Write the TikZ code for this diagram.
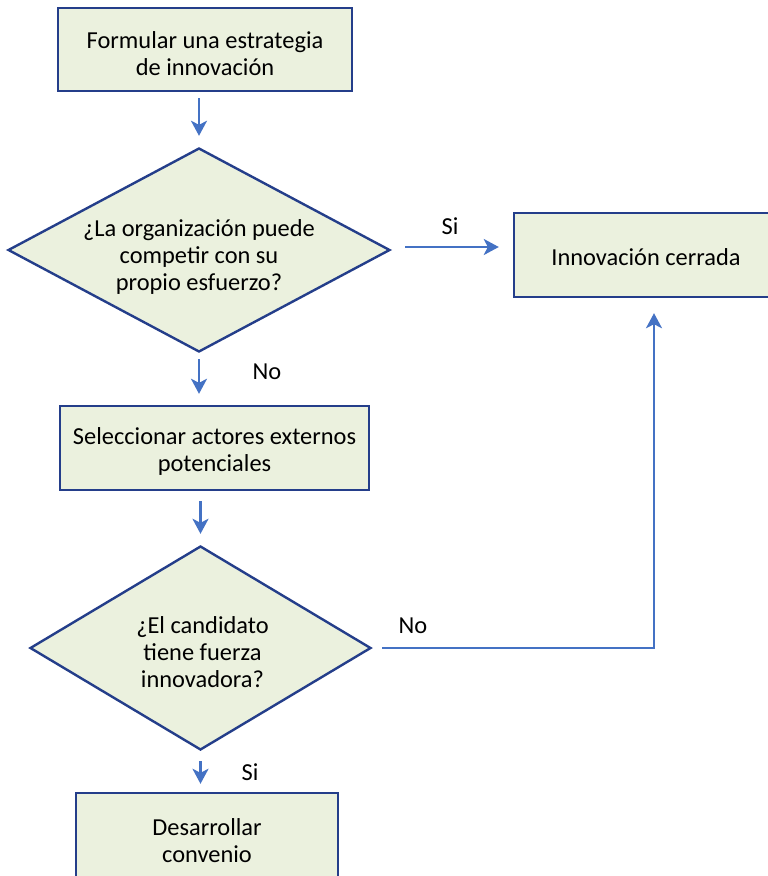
\documentclass[tikz,border=0pt]{standalone}
\usepackage{fontspec}
\setmainfont{Carlito}
\usetikzlibrary{shapes.geometric,arrows.meta,calc}
\definecolor{boxfill}{HTML}{EBF1DE}
\definecolor{boxline}{RGB}{36,62,138}
\definecolor{arrowblue}{RGB}{68,114,196}
\tikzset{
  every node/.style={font=\fontsize{24.4}{27}\selectfont},
  every label/.style={align=center},
  procbox/.style={draw=boxline, fill=boxfill, line width=2.4pt, rectangle, inner sep=0pt},
  decision/.style={draw=boxline, fill=boxfill, line width=2.4pt, diamond, inner sep=0pt},
  conn/.style={draw=arrowblue, line width=2.4pt, -{Stealth[length=15pt,width=16pt,inset=4pt]}},
  lbl/.style={inner sep=0pt, anchor=center}
}
\begin{document}
\begin{tikzpicture}[x=1pt,y=1pt]
\useasboundingbox (0,0) rectangle (768,-876);
\clip (0,0) rectangle (768,-876);
\node[procbox, minimum width=294, minimum height=83,
  label={[yshift=-4pt]center:Formular una estrategia\\de innovación}] (b1) at (205,-49.5) {};
\node[decision, minimum width=382, minimum height=204,
  label={[yshift=-7pt]center:¿La organización puede\\competir con su\\propio esfuerzo?}] (d1) at (199,-250) {};
\node[procbox, minimum width=264, minimum height=84,
  label={[yshift=-2pt]center:Innovación cerrada}] (b4) at (646,-255) {};
\node[procbox, minimum width=309, minimum height=84,
  label={[yshift=-3pt]center:Seleccionar actores externos\\potenciales}] (b2) at (214.5,-448) {};
\node[decision, minimum width=341, minimum height=204,
  label={[yshift=-4pt,xshift=2pt]center:¿El candidato\\tiene fuerza\\innovadora?}] (d2) at (200.5,-648) {};
\node[procbox, minimum width=262, minimum height=86,
  label={[yshift=-5pt]center:Desarrollar\\convenio}] (b3) at (207,-836) {};
\coordinate (c1) at (654,-648);

\draw[conn, shorten <=6pt, shorten >=11pt] (b1.south -| d1.north) -- (d1.north);
\draw[conn, shorten <=14pt, shorten >=14pt] ([yshift=3pt]d1.east) -- ([yshift=3pt]d1.east -| b4.west);
\draw[conn, shorten <=6pt, shorten >=11pt] (d1.south) -- (d1.south |- b2.north);
\draw[conn, shorten <=10pt, shorten >=11pt] (b2.south -| d2.north) -- (d2.north);
\draw[conn, shorten <=10pt, shorten >=15pt] (d2.east) -- (c1) -- (c1 |- b4.south);
\draw[conn, shorten <=10pt, shorten >=8pt] (d2.south) -- (d2.south |- b3.north);

\node[lbl] (s1) at (450,-226) {Si};
\node[lbl] (n1) at (267,-372) {No};
\node[lbl] (n2) at (413,-626) {No};
\node[lbl] (s2) at (250,-772) {Si};
\end{tikzpicture}
\end{document}
